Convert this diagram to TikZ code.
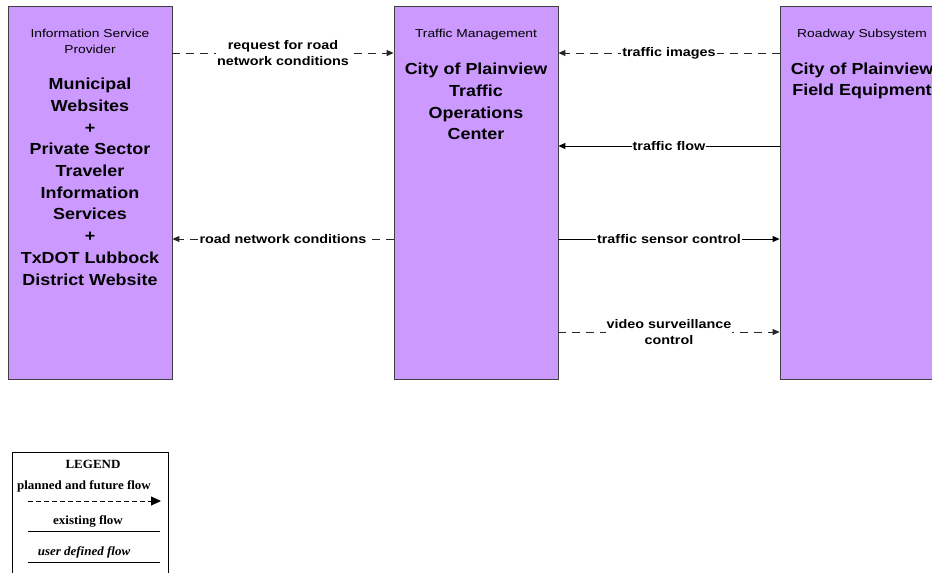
\documentclass[tikz,border=0pt]{standalone}
\usepackage{fontspec}
\setmainfont{Liberation Sans}
\newfontfamily\bodyfont[FakeStretch=1.12]{Liberation Sans}
\newfontfamily\titlefont[FakeStretch=1.2]{Liberation Sans}
\newfontfamily\labelfont[FakeStretch=1.15]{Liberation Sans}
\newfontfamily\legendfont[FakeStretch=1.04]{Liberation Serif}
\usetikzlibrary{arrows.meta}
\definecolor{boxfill}{HTML}{CC99FF}
\begin{document}
\begin{tikzpicture}[x=1pt,y=-1pt,
  subsys/.style={draw=black!75, line width=0.8pt, fill=boxfill, minimum width=164pt, minimum height=373pt, inner sep=0pt},
  ttl/.style={font={\titlefont\fontsize{11.5}{16}\selectfont}, align=center, anchor=north, inner sep=0pt},
  body/.style={font={\bodyfont\bfseries\fontsize{16}{21.7}\selectfont}, align=center, anchor=north, inner sep=0pt},
  lbl/.style={font={\labelfont\bfseries\fontsize{12.5}{16}\selectfont}, align=center, fill=white, inner sep=1pt},
  planned/.style={draw=black!85, line width=0.9pt, dash pattern=on 8pt off 6pt, -{Triangle[length=7pt,width=6pt]}},
  existing/.style={draw=black, line width=0.9pt, -{Triangle[length=7pt,width=6pt]}},
  legtxt/.style={font={\legendfont\bfseries\fontsize{12.5}{14}\selectfont}, inner sep=0pt},
  legline/.style={draw=black, line width=0.9pt}
]
\useasboundingbox (0,0) rectangle (932,573);
\clip (0,0) rectangle (932,573);
\fill[white] (0,0) rectangle (932,573);

% subsystem boxes
\node[subsys] (isp) at (90,192.5) {};
\node[subsys] (tm)  at (476,192.5) {};
\node[subsys] (rs)  at (862,192.5) {};

\node[ttl] (ispt) at (90,29) {Information Service\\Provider};
\node[body] (ispb) at (90,78) {Municipal\\Websites\\+\\Private Sector\\Traveler\\Information\\Services\\+\\TxDOT Lubbock\\District Website};

\node[ttl] (tmt) at (476,29) {Traffic Management};
\node[body] (tmb) at (476,63) {City of Plainview\\Traffic\\Operations\\Center};

\node[ttl] (rst) at (862,29) {Roadway Subsystem};
\node[body, font={\bodyfont\bfseries\fontsize{16}{20.5}\selectfont}] (rsb) at (862,63) {City of Plainview\\Field Equipment};

% flow rows
\coordinate (r1) at (0,53);
\coordinate (r2) at (0,146);
\coordinate (r3) at (0,239);
\coordinate (r4) at (0,332);

\draw[planned] (isp.east |- r1) -- node[lbl] {request for road\\network conditions} (tm.west |- r1);
\draw[planned] (rs.west |- r1) -- node[lbl] {traffic images} (tm.east |- r1);
\draw[existing] (rs.west |- r2) -- node[lbl] {traffic flow} (tm.east |- r2);
\draw[planned] (tm.west |- r3) -- node[lbl] {road network conditions} (isp.east |- r3);
\draw[existing] (tm.east |- r3) -- node[lbl] {traffic sensor control} (rs.west |- r3);
\draw[planned] (tm.east |- r4) -- node[lbl] {video surveillance\\control} (rs.west |- r4);

% legend
\node[draw=black, line width=0.9pt, minimum width=156pt, minimum height=160pt, anchor=north west, inner sep=0pt] (leg) at (12,452) {};
\node[legtxt] (legt) at (93,464) {LEGEND};
\node[legtxt] (legp) at (84,486) {planned and future flow};
\coordinate (pa) at (28,501);
\coordinate (pb) at (161,501);
\draw[legline, dash pattern=on 4.5pt off 3.5pt, -{Triangle[length=10pt,width=9pt]}] (pa) -- (pb);
\node[legtxt] (lege) at (88,521) {existing flow};
\coordinate (ea) at (28,531);
\coordinate (eb) at (160,531);
\draw[legline] (ea) -- (eb);
\node[legtxt, font={\legendfont\bfseries\itshape\fontsize{12.5}{14}\selectfont}] (legu) at (84,552) {user defined flow};
\coordinate (ua) at (28,562);
\coordinate (ub) at (160,562);
\draw[legline] (ua) -- (ub);
\end{tikzpicture}
\end{document}
